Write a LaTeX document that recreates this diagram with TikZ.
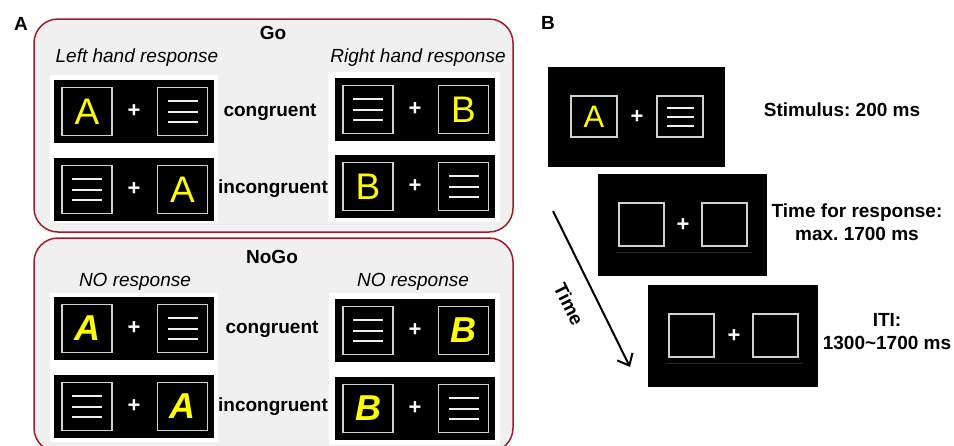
\documentclass[tikz,border=0pt]{standalone}
\usepackage{fontspec}
\setmainfont{Liberation Sans}
\frenchspacing
\usetikzlibrary{arrows.meta}
\definecolor{frame}{HTML}{A01C2C}
\definecolor{panelbg}{HTML}{F0F0F0}
\definecolor{ylw}{HTML}{FFFF00}
\definecolor{boxline}{HTML}{D0D0D0}
\definecolor{barcol}{HTML}{EEEEEE}
\definecolor{faint}{HTML}{2A2A2A}
\tikzset{
  grp/.style={draw=frame, line width=1.5pt, fill=panelbg, rounded corners=24pt},
  screen/.style={fill=black, draw=none, anchor=north west, inner sep=0pt, outer sep=0pt},
  stim/.style={draw=boxline, line width=1.7pt, inner sep=0pt, text=ylw},
  stimbar/.style={draw=barcol, line width=2pt},
  plus/.style={text=white, inner sep=0pt, font=\bfseries\fontsize{22}{22}\selectfont},
  lbl/.style={inner sep=0pt, font=\bfseries\fontsize{19}{23}\selectfont},
  ilbl/.style={inner sep=0pt, font=\itshape\fontsize{19}{23}\selectfont},
  goletter/.style={font=\fontsize{37}{37}\selectfont},
  nogoletter/.style={font=\bfseries\itshape\fontsize{36}{36}\selectfont},
  timearrow/.style={line width=2pt, -{Straight Barb[length=10pt,width=17pt,line width=2pt]}},
  faintline/.style={draw=faint, line width=0.8pt}
}
\newcommand{\stimlines}[4]{%
  \foreach \k in {-1,0,1} {\draw[stimbar] ({#1-#3},{#2+\k*#4}) -- ({#1+#3},{#2+\k*#4});}}
% letter left, lines right
\newcommand{\scrLL}[5]{%
  \node[screen, minimum width=160pt, minimum height=63pt] (#1) at (#2,#3) {};
  \node[stim, minimum width=50pt, minimum height=48pt, #5] (#1-l) at ({#2+33},{#3+31.5}) {#4};
  \node[plus] (#1-p) at ({#2+80},{#3+31.5}) {+};
  \node[stim, minimum width=50pt, minimum height=48pt] (#1-r) at ({#2+128.5},{#3+31.5}) {};
  \stimlines{#2+128.5}{#3+31.5}{15}{10.5}}
% lines left, letter right
\newcommand{\scrLR}[5]{%
  \node[screen, minimum width=160pt, minimum height=63pt] (#1) at (#2,#3) {};
  \node[stim, minimum width=50pt, minimum height=48pt] (#1-l) at ({#2+33},{#3+31.5}) {};
  \stimlines{#2+33}{#3+31.5}{15}{10.5}
  \node[plus] (#1-p) at ({#2+80},{#3+31.5}) {+};
  \node[stim, minimum width=50pt, minimum height=48pt, #5] (#1-r) at ({#2+128.5},{#3+31.5}) {#4};}
\begin{document}
\begin{tikzpicture}[x=1pt,y=-1pt]
\useasboundingbox[fill=white] (0,0) rectangle (954,445);
% panel labels
\node[lbl] (labA) at (21,24) {A};
\node[lbl] (labB) at (548,23) {B};
% group boxes
\draw[grp] (34,19) rectangle (513,232);
\draw[grp] (34,238) rectangle (513,452);
% white backings
\fill[white] (50,75) rectangle (218,223);
\fill[white] (328,72) rectangle (500,222);
\fill[white] (50,293) rectangle (218,442);
\fill[white] (329,293) rectangle (500,445);
% Go
\node[lbl] (go) at (273,33) {Go};
\node[ilbl] (lhr) at (137,58) {Left hand response};
\node[ilbl] (rhr) at (418,58) {Right hand response};
\scrLL{g1}{54}{80}{A}{goletter}
\scrLR{g2}{54}{158}{A}{goletter}
\scrLR{g3}{335}{78}{B}{goletter}
\scrLL{g4}{335}{155}{B}{goletter}
\node[lbl] (gcon) at (270,112) {congruent};
\node[lbl] (ginc) at (273,189) {incongruent};
% NoGo
\node[lbl] (nogo) at (272,257) {NoGo};
\node[ilbl] (nr1) at (135,282) {NO response};
\node[ilbl] (nr2) at (413,282) {NO response};
\scrLL{n1}{54}{297}{A}{nogoletter}
\scrLR{n2}{54}{375}{A}{nogoletter}
\scrLR{n3}{335}{299}{B}{nogoletter}
\scrLL{n4}{335}{377}{B}{nogoletter}
\node[lbl] (ncon) at (272,329) {congruent};
\node[lbl] (ninc) at (273,407) {incongruent};
% B: trial sequence
\node[screen, minimum width=177pt, minimum height=100pt] (s1) at (548,67) {};
\node[stim, minimum width=46pt, minimum height=41pt, font=\fontsize{31}{31}\selectfont] (s1-l) at (594,116.5) {A};
\node[plus] (s1-p) at (637,117) {+};
\node[stim, minimum width=46pt, minimum height=41pt] (s1-r) at (680,116.5) {};
\stimlines{680}{116.5}{13.5}{9}
\node[screen, minimum width=169pt, minimum height=102pt] (s2) at (598,174) {};
\node[stim, minimum width=45pt, minimum height=43pt] (s2-l) at (641.5,224.5) {};
\node[plus] (s2-p) at (683,225) {+};
\node[stim, minimum width=45pt, minimum height=43pt] (s2-r) at (724.5,224.5) {};
\draw[faintline] (616,252) -- (752,252);
\node[screen, minimum width=170pt, minimum height=102pt] (s3) at (648,285) {};
\node[stim, minimum width=45pt, minimum height=43pt] (s3-l) at (691.5,335.5) {};
\node[plus] (s3-p) at (734,336) {+};
\node[stim, minimum width=45pt, minimum height=43pt] (s3-r) at (775.5,335.5) {};
\draw[faintline] (667,363) -- (803,363);
\node[lbl] (t1) at (842,110) {Stimulus: 200 ms};
\node[lbl, align=center] (t2) at (857,222.5) {Time for response:\\max. 1700 ms};
\node[lbl, align=center] (t3) at (887,331.5) {ITI:\\1300\textasciitilde1700 ms};
% time arrow
\coordinate (ts) at (553,211);
\coordinate (te) at (630,367);
\draw[timearrow] (ts) -- (te);
\node[lbl, rotate=-63.7] (timelbl) at (569,304) {Time};
\end{tikzpicture}
\end{document}
